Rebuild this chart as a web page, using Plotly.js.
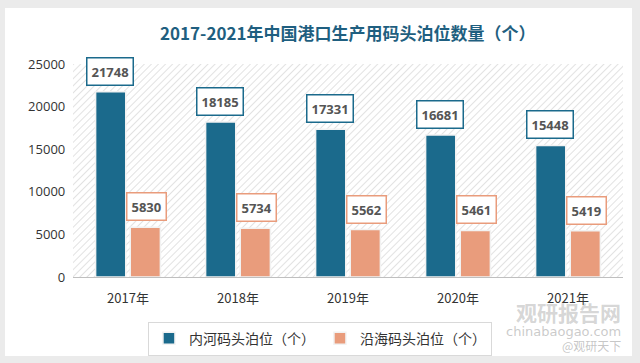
<!DOCTYPE html>
<html><head><meta charset="utf-8">
<script src="https://cdn.plot.ly/plotly-3.0.1.min.js"></script>
<style>
html,body{margin:0;padding:0;background:#ebebeb;width:640px;height:363px;overflow:hidden}
#chart{position:absolute;left:5px;top:8px;width:627px;height:348px;background:#fff}
</style></head><body>
<div id="chart"></div>
<script>
const years = ['2017年','2018年','2019年','2020年','2021年'];
const inland = [21748, 18185, 17331, 16681, 15448];
const coastal = [5830, 5734, 5562, 5461, 5419];
const seriesNames = ['内河码头泊位（个）','沿海码头泊位（个）'];
const colors = ['#1b6a8c','#e99c7c'];

const hatch = 'data:image/svg+xml;utf8,' + encodeURIComponent(
 '<svg xmlns="http://www.w3.org/2000/svg" width="550" height="213">' +
 '<defs><pattern id="p" width="5" height="5" patternUnits="userSpaceOnUse" patternTransform="rotate(45)">' +
 '<rect width="5" height="5" fill="#ffffff"/><line x1="0" y1="0" x2="0" y2="5" stroke="#e2e2e2" stroke-width="2"/></pattern></defs>' +
 '<rect width="550" height="213" fill="url(#p)"/></svg>');

const traces = [
 {type:'bar', x:years, y:inland, name:seriesNames[0], marker:{color:colors[0], line:{color:'#f2f2f2', width:1.5}}, hoverinfo:'none'},
 {type:'bar', x:years, y:coastal, name:seriesNames[1], marker:{color:colors[1], line:{color:'#f2f2f2', width:1.5}}, hoverinfo:'none'}
];

const annotations = [];
years.forEach((yr,i)=>{
 [inland, coastal].forEach((arr,k)=>{
  annotations.push({x:yr, y:arr[i], xref:'x', yref:'y', text:'<b>'+arr[i]+'</b>', showarrow:false,
   xshift: k===0 ? -18 : 18, yshift: 6, yanchor:'bottom',
   font:{family:'Open Sans, Noto Sans, sans-serif', size:13, color:'#555555'},
   bgcolor:'#ffffff', bordercolor:colors[k], borderwidth:1.5, borderpad:4});
 });
});
annotations.push({xref:'paper', yref:'paper', x:0.5, y:1, yshift:32, yanchor:'middle', showarrow:false,
 text:'<b>2017-2021年中国港口生产用码头泊位数量（个）</b>',
 font:{family:'Noto Sans CJK SC, sans-serif', size:17, color:'#1f5f80'}});
annotations.push({xref:'paper', yref:'paper', x:1, y:0, yshift:-35, xanchor:'right', yanchor:'middle', showarrow:false,
 text:'<b>观研报告网</b>', font:{family:'Noto Sans CJK SC, sans-serif', size:21, color:'rgba(150,150,150,0.4)'}});
annotations.push({xref:'paper', yref:'paper', x:1, y:0, yshift:-54, xanchor:'right', yanchor:'middle', showarrow:false,
 text:'chinabaogao.com', font:{family:'DejaVu Sans, sans-serif', size:13, color:'rgba(150,150,150,0.5)'}});
annotations.push({xref:'paper', yref:'paper', x:1, y:0, yshift:-68, xanchor:'right', yanchor:'middle', showarrow:false,
 text:'@观研天下', font:{family:'Noto Sans CJK SC, sans-serif', size:12, color:'rgba(150,150,150,0.55)'}});

const layout = {
 width:627, height:348,
 margin:{l:68, r:9, t:56, b:79, autoexpand:false},
 paper_bgcolor:'#ffffff', plot_bgcolor:'rgba(0,0,0,0)',
 barmode:'group', bargap:0.37, bargroupgap:0.13,
 showlegend:true,
 legend:{orientation:'h', x:0.449, xanchor:'center', y:-0.21, yanchor:'top',
  font:{family:'Noto Sans CJK SC, sans-serif', size:14, color:'#333333'},
  bordercolor:'#d9d9d9', borderwidth:1, bgcolor:'rgba(255,255,255,0)', itemwidth:30, tracegroupgap:0},
 xaxis:{type:'category', automargin:false, showline:true, linecolor:'#bfbfbf', linewidth:1, ticks:'outside', ticklen:9, tickcolor:'rgba(0,0,0,0)', showgrid:false,
  tickfont:{family:'Noto Sans CJK SC, sans-serif', size:13, color:'#333333'}},
 yaxis:{range:[0,25000], automargin:false, dtick:5000, tickformat:'d', showgrid:false, zeroline:false, showline:false, ticks:'',
  tickfont:{family:'Open Sans, Noto Sans, sans-serif', size:13, color:'#333333'}, ticksuffix:'  '},
 images:[{source:hatch, xref:'paper', yref:'paper', x:0, y:1, sizex:1, sizey:1, sizing:'stretch', layer:'below', xanchor:'left', yanchor:'top'}],
 annotations:annotations
};
Plotly.newPlot('chart', traces, layout, {displayModeBar:false, staticPlot:true});
</script></body></html>
